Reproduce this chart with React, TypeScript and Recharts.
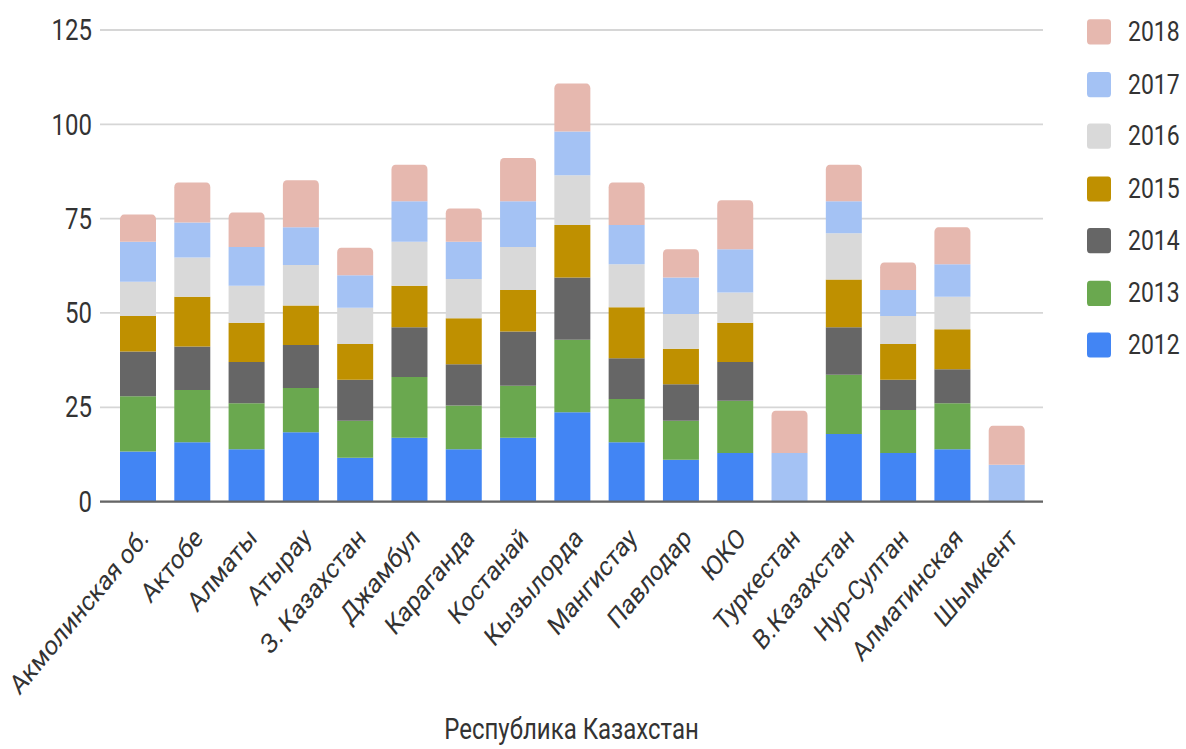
import React from "react";
import { BarChart, Bar, XAxis, YAxis, CartesianGrid } from "recharts";

// регионы
const regions = [
  "Акмолинская об.",
  "Актобе",
  "Алматы",
  "Атырау",
  "З. Казахстан",
  "Джамбул",
  "Караганда",
  "Костанай",
  "Кызылорда",
  "Мангистау",
  "Павлодар",
  "ЮКО",
  "Туркестан",
  "В.Казахстан",
  "Нур-Султан",
  "Алматинская",
  "Шымкент",
];

const y2012 = [13.3, 15.7, 13.9, 18.4, 11.6, 16.9, 13.9, 16.9, 23.7, 15.7, 11.1, 12.9, 0, 17.9, 12.9, 13.9, 0];
const y2013 = [14.6, 13.9, 12.2, 11.7, 9.8, 16.1, 11.6, 13.8, 19.2, 11.5, 10.3, 13.8, 0, 15.7, 11.4, 12.2, 0];
const y2014 = [11.9, 11.5, 10.9, 11.4, 10.9, 13.2, 10.9, 14.4, 16.5, 10.8, 9.7, 10.3, 0, 12.6, 8.0, 9.0, 0];
const y2015 = [9.4, 13.2, 10.4, 10.5, 9.5, 11.0, 12.2, 11.0, 13.9, 13.5, 9.4, 10.4, 0, 12.7, 9.5, 10.6, 0];
const y2016 = [9.1, 10.4, 9.8, 10.7, 9.6, 11.7, 10.4, 11.4, 13.2, 11.4, 9.2, 8.0, 0, 12.2, 7.4, 8.6, 0];
const y2017 = [10.6, 9.3, 10.3, 10.0, 8.6, 10.7, 9.9, 12.1, 11.6, 10.4, 9.7, 11.5, 12.9, 8.5, 6.9, 8.6, 9.8];
const y2018 = [7.2, 10.6, 9.1, 12.5, 7.3, 9.7, 8.8, 11.5, 12.7, 11.3, 7.5, 13.0, 11.2, 9.7, 7.3, 9.8, 10.3];

const yTicks = [0, 25, 50, 75, 100, 125];

const series = [
  { key: "2012", values: y2012, color: "#4285f4" },
  { key: "2013", values: y2013, color: "#6aa84f" },
  { key: "2014", values: y2014, color: "#666666" },
  { key: "2015", values: y2015, color: "#bf9000" },
  { key: "2016", values: y2016, color: "#d9d9d9" },
  { key: "2017", values: y2017, color: "#a4c2f4" },
  { key: "2018", values: y2018, color: "#e6b8af" },
];

const data = regions.map((name, i) => {
  const row: Record<string, string | number> = { name };
  series.forEach((s) => {
    row[s.key] = s.values[i];
  });
  return row;
});

const FONT = "Roboto, 'Liberation Sans', Arial, sans-serif";
const TEXT = "#333333";
// картинка растянута по вертикали
const STRETCH = 1.2;
const W = 1186;
const H = Math.round(749 / STRETCH);

function XTick({ x, y, payload }: any) {
  return (
    <g transform={`translate(${x + 6},${y + 18})`}>
      <text
        x={0}
        y={0}
        dy="0.35em"
        transform="rotate(-45)"
        textAnchor="end"
        fill={TEXT}
        fontSize={23}
        fontFamily={FONT}
      >
        {payload.value}
      </text>
    </g>
  );
}

export default function App() {
  return (
    <div style={{ position: "absolute", left: 0, top: 0, width: W, height: 749, overflow: "hidden", background: "#fff" }}>
      <div style={{ width: W, height: H, transform: `scaleY(${STRETCH})`, transformOrigin: "0 0", position: "relative" }}>
        <BarChart
          width={W}
          height={H}
          data={data}
          margin={{ top: 25, right: 143, bottom: 0, left: 0 }}
          barSize={36}
        >
          <CartesianGrid vertical={false} stroke="#d6d6d6" strokeWidth={1.5} />
          <XAxis
            dataKey="name"
            interval={0}
            height={206}
            padding={{ left: 11, right: 9 }}
            axisLine={{ stroke: "#666666", strokeWidth: 2 }}
            tickLine={false}
            tick={<XTick />}
            label={{
              value: "Республика Казахстан",
              position: "insideBottom",
              offset: 8,
              fill: TEXT,
              fontSize: 24,
              fontFamily: FONT,
            }}
          />
          <YAxis
            width={100}
            domain={[0, 125]}
            ticks={yTicks}
            axisLine={false}
            tickLine={false}
            tick={{ fill: TEXT, fontSize: 24, fontFamily: FONT }}
          />
          {series.map((s, i) => (
            <Bar
              key={s.key}
              dataKey={s.key}
              stackId="a"
              fill={s.color}
              isAnimationActive={false}
              radius={i === series.length - 1 ? [4, 4, 0, 0] : 0}
            />
          ))}
        </BarChart>

        {/* легенда */}
        <div style={{ position: "absolute", left: 1087, top: 5, fontFamily: FONT }}>
          {[...series].reverse().map((s) => (
            <div key={s.key} style={{ display: "flex", alignItems: "center", height: 43.5 }}>
              <div style={{ width: 24, height: 21, background: s.color, borderRadius: 3 }} />
              <span style={{ marginLeft: 17, fontSize: 23, color: TEXT }}>{s.key}</span>
            </div>
          ))}
        </div>
      </div>
    </div>
  );
}
